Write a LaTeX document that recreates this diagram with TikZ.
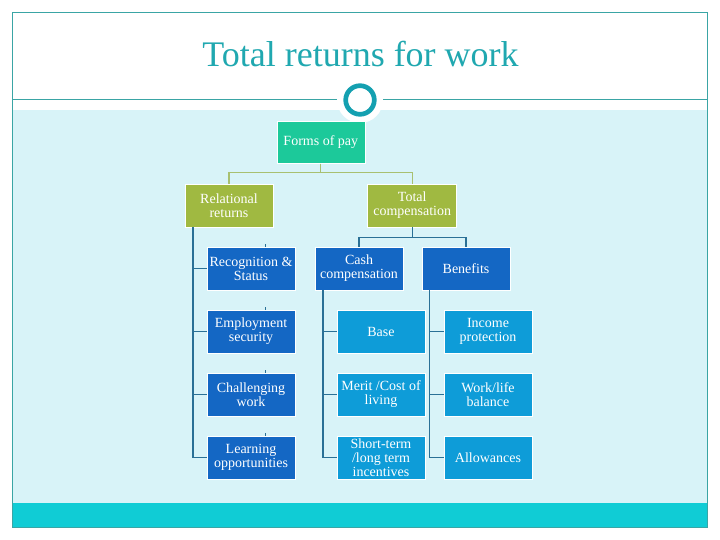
\documentclass[tikz,border=0pt]{standalone}
\usepackage{fontspec}
\setmainfont{Liberation Serif}
\definecolor{bgblue}{RGB}{216,243,248}
\definecolor{band}{RGB}{16,204,213}
\definecolor{frame}{RGB}{58,165,165}
\definecolor{titlec}{RGB}{32,168,176}
\definecolor{ringc}{RGB}{20,160,176}
\definecolor{formsc}{RGB}{28,201,154}
\definecolor{olivec}{RGB}{160,185,65}
\definecolor{olivel}{RGB}{168,192,112}
\definecolor{darkb}{RGB}{20,103,196}
\definecolor{lightb}{RGB}{14,156,216}
\definecolor{linkb}{RGB}{42,112,150}
\tikzset{
  box/.style={rectangle, draw=white, line width=0.6pt, minimum width=88pt, minimum height=43pt,
    inner sep=0pt, text=white, align=center, font=\fontsize{14}{14}\selectfont},
  formsbox/.style={box, fill=formsc, minimum height=42pt},
  olivebox/.style={box, fill=olivec},
  darkbox/.style={box, fill=darkb},
  lightbox/.style={box, fill=lightb},
  olivelink/.style={draw=olivel, line width=1.2pt},
  bluelink/.style={draw=linkb, line width=1.2pt},
}
\begin{document}
\begin{tikzpicture}[x=1pt,y=-1pt]
\useasboundingbox (0,0) rectangle (720,540);
\fill[white] (0,0) rectangle (720,540);
\fill[bgblue] (13,110) rectangle (707,503);
\fill[band] (12.3,503) rectangle (707.7,527.3);
\draw[frame, line width=1.2pt] (12.3,12.3) rectangle (707.7,527.3);
\draw[frame, line width=1pt] (12.3,100) -- (707.7,100);
\fill[white] (360,100) circle (23);
\draw[ringc, line width=4.7pt] (360,100) circle (14.3);
\node[anchor=base, text=titlec, font=\fontsize{36}{40}\selectfont, inner sep=0pt] (title) at (360.5,66.7) {Total returns for work};

\node[formsbox] (forms) at (320.8,142.3) {Forms of pay};
\node[olivebox] (rel) at (229,205.5) {Relational\\returns};
\node[olivebox, minimum width=89pt] (tot) at (412.2,205.5) {Total\\compensation};

\node[darkbox] (rec) at (251,268.5) {Recognition \&\\Status};
\node[darkbox] (emp) at (251,331.5) {Employment\\security};
\node[darkbox] (cha) at (251,394.5) {Challenging\\work};
\node[darkbox] (lea) at (251,457.5) {Learning\\opportunities};

\node[darkbox] (cash) at (359,268.5) {Cash\\compensation};
\node[darkbox] (ben) at (466,268.5) {Benefits};

\node[lightbox] (base) at (381,331.5) {Base};
\node[lightbox] (merit) at (381,394.5) {Merit /Cost of\\living};
\node[lightbox] (short) at (381,457.5) {Short-term\\/long term\\incentives};

\node[lightbox] (inc) at (488,331.5) {Income\\protection};
\node[lightbox] (work) at (488,394.5) {Work/life\\balance};
\node[lightbox] (allow) at (488,457.5) {Allowances};

% top level links
\draw[olivelink] (forms.south) -- ++(0,9) -| (rel.north);
\draw[olivelink] (forms.south) -- ++(0,9) -| (tot.north);
\draw[bluelink] (tot.south) -- ++(0,10.5) -| (cash.north);
\draw[bluelink] (tot.south) -- ++(0,10.5) -| (ben.north);

% spines
\coordinate (sp1) at ([xshift=8.3pt]rel.south west);
\coordinate (sp2) at ([xshift=8.3pt]cash.south west);
\coordinate (sp3) at ([xshift=8pt]ben.south west);
\draw[bluelink] (sp1) |- (lea.west);
\foreach \n in {rec,emp,cha} \draw[bluelink] (\n.west) -- (\n.west -| sp1);
\draw[bluelink] (sp2) |- (short.west);
\foreach \n in {base,merit} \draw[bluelink] (\n.west) -- (\n.west -| sp2);
\draw[bluelink] (sp3) |- (allow.west);
\foreach \n in {inc,work} \draw[bluelink] (\n.west) -- (\n.west -| sp3);

% small ticks above left boxes
\foreach \n in {rec,emp,cha,lea} \draw[linkb, line width=0.8pt] ([xshift=14.7pt]\n.north) -- ++(0,-3);
\end{tikzpicture}
\end{document}
